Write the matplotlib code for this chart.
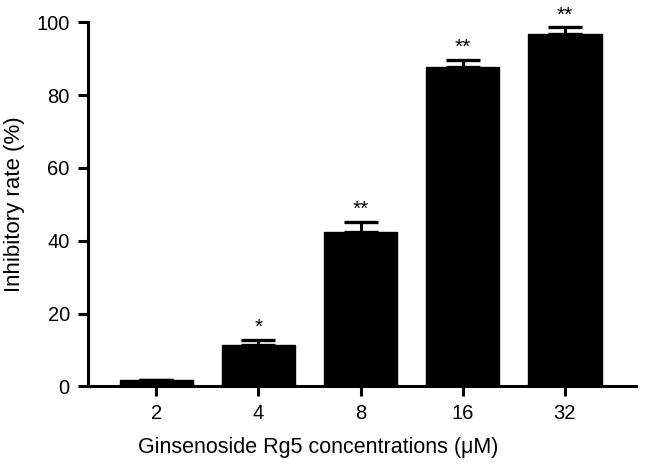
import matplotlib
matplotlib.use("Agg")
import matplotlib.pyplot as plt
import numpy as np

plt.rcParams['font.family'] = ['Liberation Sans', 'DejaVu Sans']

categories = ["2", "4", "8", "16", "32"]
values = [1.7, 11.4, 42.3, 87.6, 96.8]
errors = [0.0, 1.3, 2.9, 2.1, 1.8]
significance = ["", "*", "**", "**", "**"]

fig = plt.figure(figsize=(6.46, 4.73), dpi=100)
ax = fig.add_axes([0.136, 0.183, 0.849, 0.770])

x = np.arange(len(categories))
ax.bar(x, values, width=0.72, color="black", edgecolor="black", zorder=2)
ax.errorbar(x, values, yerr=[np.zeros(len(errors)), errors], fmt="none",
            ecolor="black", elinewidth=2.2, capsize=12, capthick=2.4, zorder=3)
for xi, v, e, s in zip(x, values, errors, significance):
    if s:
        ax.text(xi, v + e + 0.8, s, ha="center", va="bottom", fontsize=15)

ax.set_xlim(-0.67, 4.7)
ax.set_ylim(0, 100)
ax.set_yticks([0, 20, 40, 60, 80, 100])
ax.set_xticks(x)
ax.set_xticklabels(categories)
ax.spines['top'].set_visible(False)
ax.spines['right'].set_visible(False)
for sp in ['left', 'bottom']:
    ax.spines[sp].set_linewidth(2.2)
ax.tick_params(axis='both', width=2.2, length=7, labelsize=14.5, pad=6)
ax.set_ylabel("Inhibitory rate (%)", fontsize=16, labelpad=8)
ax.set_xlabel("Ginsenoside Rg5 concentrations (\u03bcM)", fontsize=15.5)
ax.xaxis.set_label_coords(0.42, -0.14)

fig.savefig("out.png", dpi=100)
